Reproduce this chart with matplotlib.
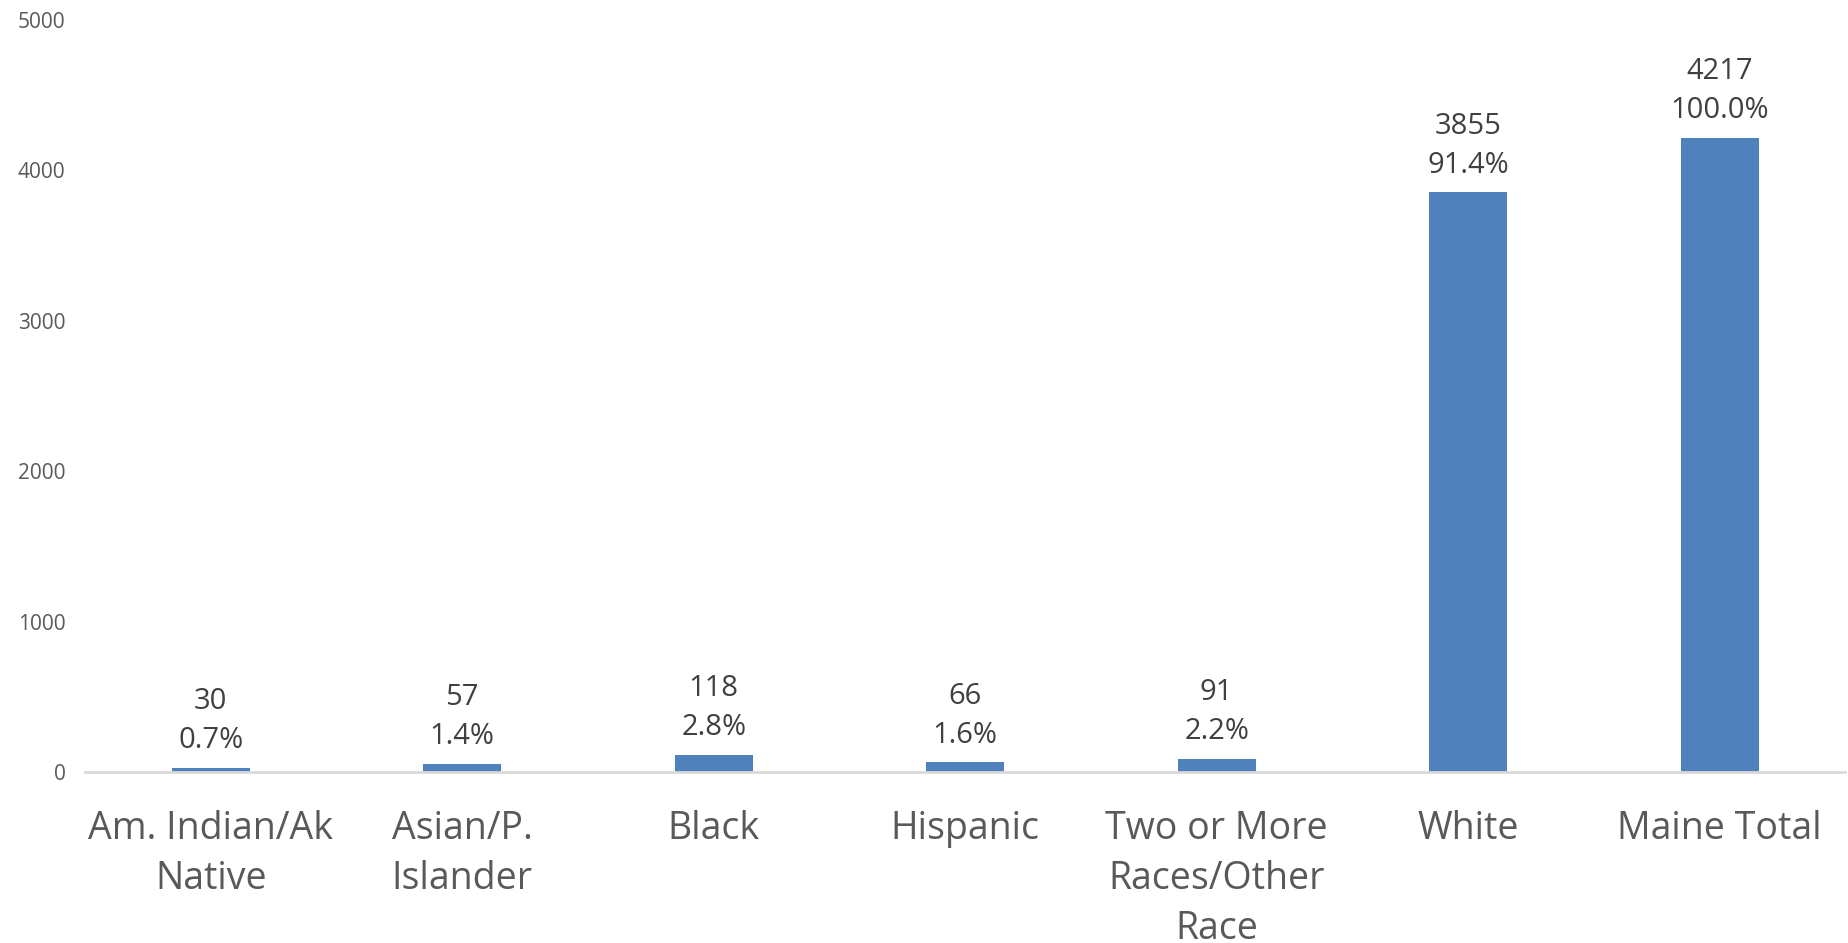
import matplotlib.pyplot as plt

plt.rcParams['font.family'] = ['Open Sans', 'DejaVu Sans']

categories = ["Am. Indian/Ak\nNative", "Asian/P.\nIslander", "Black", "Hispanic",
              "Two or More\nRaces/Other\nRace", "White", "Maine Total"]
counts = [30, 57, 118, 66, 91, 3855, 4217]
percents = [0.7, 1.4, 2.8, 1.6, 2.2, 91.4, 100.0]

fig = plt.figure(figsize=(18.49, 9.43), dpi=100)
ax = fig.add_axes([0.046, 0.181, 0.952, 0.798])

x = range(len(categories))
bars = ax.bar(x, counts, width=0.31, color='#4F81BD', zorder=2)

for b, c, p in zip(bars, counts, percents):
    ax.annotate(f"{c}\n{p:.1f}%", (b.get_x() + b.get_width() / 2, b.get_height()),
                xytext=(0, 9), textcoords='offset points', ha='center', va='bottom',
                fontsize=21, color='#404040', linespacing=1.45)

ax.set_xlim(-0.5, len(categories) - 0.5)
ax.set_ylim(0, 5000)
ax.set_yticks([0, 1000, 2000, 3000, 4000, 5000])
ax.set_xticks(list(x))
ax.set_xticklabels(categories, fontsize=27, color='#595959', linespacing=1.42)
ax.tick_params(axis='x', length=0, pad=27)
ax.tick_params(axis='y', length=0, labelsize=15, labelcolor='#595959', pad=14)

for s in ['top', 'right', 'left']:
    ax.spines[s].set_visible(False)
ax.spines['bottom'].set_color('#D9D9D9')
ax.spines['bottom'].set_linewidth(2)

fig.savefig('out.png', dpi=100)
